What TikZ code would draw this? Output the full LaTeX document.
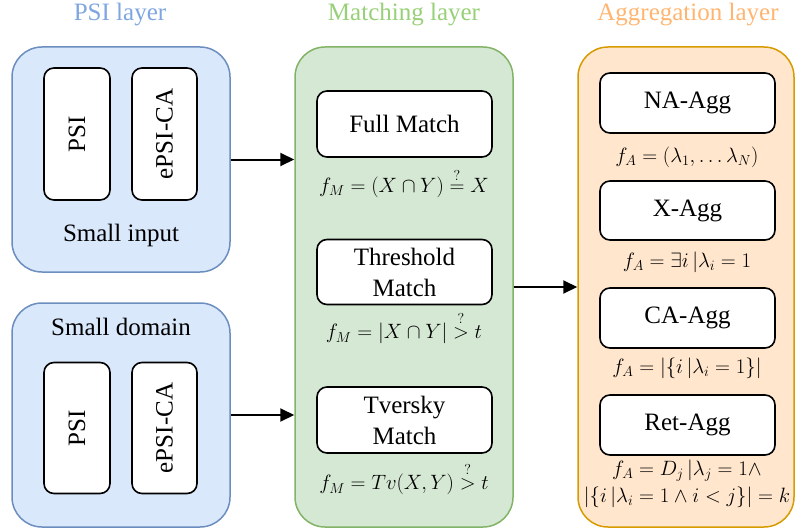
\documentclass[tikz,border=0pt]{standalone}
\usepackage{amsmath}
\usepackage{fontspec}
\setmainfont{Liberation Serif}
\usetikzlibrary{arrows.meta}
\DeclareMathSizes{20}{20}{15}{12}
\definecolor{bfill}{HTML}{DAE8FC}\definecolor{bline}{HTML}{6C8EBF}
\definecolor{gfill}{HTML}{D5E8D4}\definecolor{gline}{HTML}{82B366}
\definecolor{ofill}{HTML}{FFE6CC}\definecolor{oline}{HTML}{D79B00}
\definecolor{btitle}{HTML}{7EA6E0}\definecolor{gtitle}{HTML}{97D077}\definecolor{otitle}{HTML}{FFB570}
\tikzset{
  outerbox/.style={draw=#1line, fill=#1fill, line width=1.5pt, rounded corners=30pt, inner sep=0pt},
  innerbox/.style={draw=black, fill=white, line width=1.6pt, rounded corners=10pt, inner sep=0pt, align=center, font=\fontsize{25}{31}\selectfont},
  lbl/.style={font=\fontsize{25}{31}\selectfont, inner sep=0pt},
  frm/.style={font=\fontsize{20}{27}\selectfont, inner sep=0pt, align=center},
  ttl/.style={font=\fontsize{25}{30}\selectfont, inner sep=0pt},
  conn/.style={draw=black, line width=2pt, -{Triangle[length=14pt,width=13pt]}}
}
\begin{document}
\begin{tikzpicture}[x=1pt,y=-1pt]
\useasboundingbox (0,0) rectangle (795,532);
% titles
\node[ttl, text=btitle] (t1) at (120,15) {PSI layer};
\node[ttl, text=gtitle] (t2) at (404,15) {Matching layer};
\node[ttl, text=otitle] (t3) at (688,15) {Aggregation layer};
% PSI layer
\node[outerbox=b, minimum width=218pt, minimum height=225pt] (o1) at (121,159.5) {};
\node[outerbox=b, minimum width=218pt, minimum height=224pt] (o2) at (121,415) {};
\node[innerbox, minimum width=66pt, minimum height=132pt] (p1) at (77,134) {};
\node[lbl, rotate=90] (p1t) at (p1.center) {PSI};
\node[innerbox, minimum width=65pt, minimum height=132pt] (e1) at (164.5,134) {};
\node[lbl, rotate=90] (e1t) at (e1.center) {ePSI-CA};
\node[lbl] (si) at (121,235) {Small input};
\node[lbl] (sd) at (121,327) {Small domain};
\node[innerbox, minimum width=66pt, minimum height=131pt] (p2) at (77,428) {};
\node[lbl, rotate=90] (p2t) at (p2.center) {PSI};
\node[innerbox, minimum width=65pt, minimum height=131pt] (e2) at (164.5,428) {};
\node[lbl, rotate=90] (e2t) at (e2.center) {ePSI-CA};
% Matching layer
\node[outerbox=g, minimum width=218pt, minimum height=480pt] (m) at (404,287) {};
\node[innerbox, minimum width=175pt, minimum height=66pt] (fm) at (404.5,124) {Full Match};
\node[frm] (fmf) at (404,183) {$f_M = (X\cap Y) \stackrel{?}{=} X$};
\node[innerbox, minimum width=175pt, minimum height=65pt] (tm) at (404.5,272) {Threshold\\Match};
\node[frm] (tmf) at (404,328) {$f_M = |X\cap Y| \stackrel{?}{>} t$};
\node[innerbox, minimum width=175pt, minimum height=66pt] (vm) at (404.5,420) {Tversky\\Match};
\node[frm] (vmf) at (404,479) {$f_M = Tv(X,Y) \stackrel{?}{>} t$};
% Aggregation layer
\node[outerbox=o, minimum width=216pt, minimum height=480pt] (a) at (686,287) {};
\node[innerbox, minimum width=175pt, minimum height=60pt] (na) at (687.5,103) {NA-Agg};
\node[frm] (naf) at (687,157) {$f_A = (\lambda_1,\ldots\lambda_N)$};
\node[innerbox, minimum width=175pt, minimum height=59pt] (xa) at (687.5,210.5) {X-Agg};
\node[frm] (xaf) at (687,262) {$f_A = \exists i\,|\lambda_i = 1$};
\node[innerbox, minimum width=175pt, minimum height=60pt] (ca) at (687.5,318) {CA-Agg};
\node[frm] (caf) at (687,368) {$f_A = |\{i\,|\lambda_i = 1\}|$};
\node[innerbox, minimum width=175pt, minimum height=60pt] (ra) at (687.5,425) {Ret-Agg};
\node[frm] (raf) at (687,484) {$f_A = D_j\,|\lambda_j = 1\wedge$\\$|\{i\,|\lambda_i = 1\wedge i<j\}| = k$};
% connectors
\draw[conn] (o1.east) -- (m.west |- o1.east);
\draw[conn] (o2.east) -- (m.west |- o2.east);
\draw[conn] (m.east) -- (a.west);
\end{tikzpicture}
\end{document}
